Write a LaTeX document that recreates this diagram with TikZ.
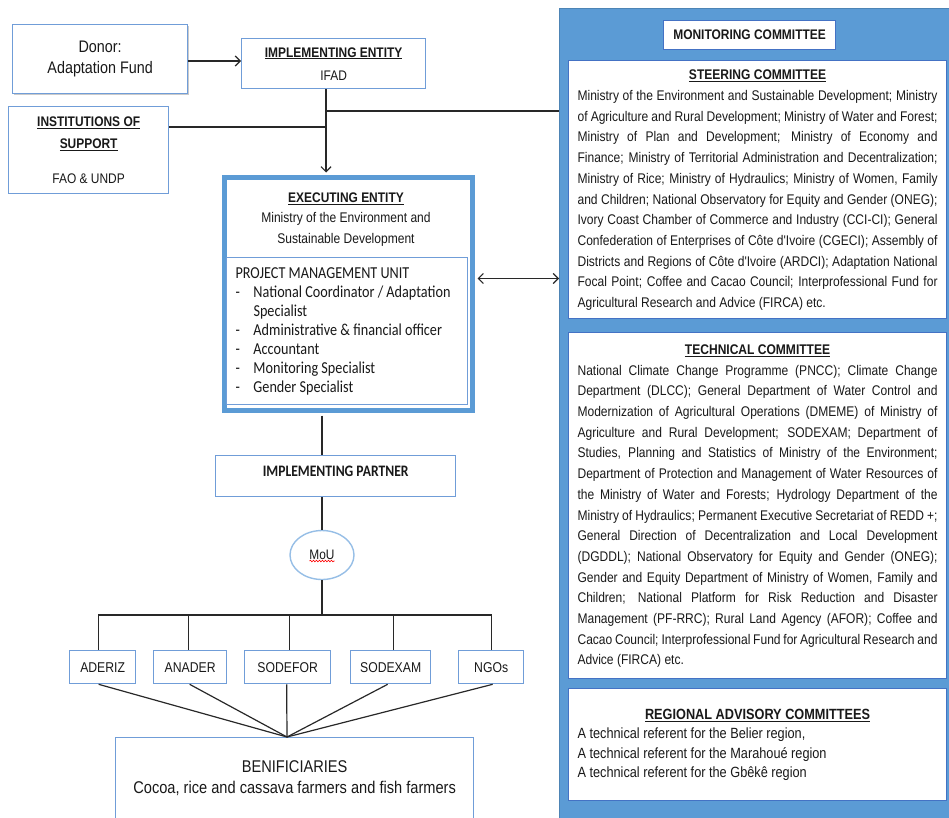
\documentclass[tikz,border=0pt]{standalone}
\usepackage{fontspec}
\setmainfont{Liberation Sans}
\newfontfamily\nar[FakeStretch=0.86]{Liberation Sans}
\newfontfamily\calf[FakeStretch=0.85]{Carlito}
\usetikzlibrary{arrows.meta,shapes.geometric,decorations.pathmorphing,shadows}
\definecolor{boxblue}{RGB}{112,157,216}
\definecolor{panelblue}{RGB}{91,155,213}
\definecolor{darkblue}{RGB}{68,114,196}
\definecolor{lightblue}{RGB}{150,190,230}
\definecolor{linegray}{RGB}{40,40,40}
\definecolor{txt}{RGB}{25,25,25}
\newlength\JW \setlength\JW{360pt}
\newcommand\JL[1]{\makebox[\JW][s]{\spaceskip=0pt\xspaceskip=0pt\strut #1}}
\newcommand\JT[1]{\makebox[\JW][c]{\strut\bfseries\underline{#1}}}
\newcommand\LL[1]{\strut #1}
\begin{document}
\begin{tikzpicture}[x=1pt,y=-1pt,
  execute at begin node={\spaceskip=0pt\xspaceskip=0pt},
  box/.style={draw=boxblue, line width=1.3pt, fill=white, inner sep=0pt, anchor=north west, text=txt, align=center},
  cbox/.style={draw=darkblue, line width=1.1pt, fill=white, anchor=north west, text=txt, inner xsep=9pt, inner ysep=0pt, align=left, text width=\JW},
  conn/.style={draw=linegray, line width=1.2pt},
  arr/.style={conn, -{Straight Barb[length=5pt,width=10pt,line width=1.2pt]}},
  darr/.style={conn, {Straight Barb[length=5pt,width=10pt,line width=1.2pt]}-{Straight Barb[length=5pt,width=10pt,line width=1.2pt]}},
  small/.style={font={\nar\fontsize{14.2}{18}\selectfont}},
  body/.style={font={\nar\fontsize{14}{20.7}\selectfont}}
]
\useasboundingbox (0,0) rectangle (949,817);

% right panel
\node[fill=panelblue, draw=panelblue!85!black, line width=0.8pt, minimum width=401pt, minimum height=822pt, anchor=north west, inner sep=0pt] (panel) at (559,8) {};

% left column boxes
\node[box, minimum width=175pt, minimum height=69pt, font={\nar\fontsize{16.7}{21}\selectfont},
      drop shadow={shadow xshift=1.5pt, shadow yshift=-1.8pt, opacity=0.35, fill=black!60}] (donor) at (12,24) {Donor:\\Adaptation Fund};
\node[box, minimum width=184pt, minimum height=50pt, font={\nar\fontsize{13.9}{23}\selectfont}] (ifad) at (241,38) {\textbf{\underline{IMPLEMENTING ENTITY}}\\IFAD};
\node[box, minimum width=160pt, minimum height=87pt, font={\nar\fontsize{13.9}{22}\selectfont}] (inst) at (8,106) {\textbf{\underline{INSTITUTIONS OF}}\\\textbf{\underline{SUPPORT}}\\[13pt]FAO \& UNDP};

\node[draw=panelblue, line width=5pt, fill=white, minimum width=248pt, minimum height=233pt, anchor=north west, inner sep=0pt] (exec) at (222,175) {};
\node[text=txt, align=center, inner sep=0pt, font={\nar\fontsize{14}{20.5}\selectfont}] (exectext) at (346,219.5)
  {{\bfseries\fontsize{13.9}{20.5}\selectfont\underline{EXECUTING ENTITY}}\\Ministry of the Environment and\\Sustainable Development};
\node[draw=boxblue, line width=1pt, fill=white, anchor=north west, inner xsep=9pt, inner ysep=0pt, text width=223pt, minimum height=147pt, align=left, text=txt, font={\calf\fontsize{16.7}{19}\selectfont}] (pmu) at (226,257)
  {PROJECT MANAGEMENT UNIT\\
   \makebox[18pt][l]{-}National Coordinator / Adaptation\\
   \makebox[18pt][l]{}Specialist\\
   \makebox[18pt][l]{-}Administrative \& financial officer\\
   \makebox[18pt][l]{-}Accountant\\
   \makebox[18pt][l]{-}Monitoring Specialist\\
   \makebox[18pt][l]{-}Gender Specialist};

\node[box, minimum width=240pt, minimum height=41pt, text height=0pt, text depth=0pt, font={\calf\bfseries\fontsize{16}{18}\selectfont}] (impl) at (215,455) {IMPLEMENTING PARTNER};
\node[ellipse, draw=lightblue, line width=1.4pt, fill=white, minimum width=64pt, minimum height=49pt, inner sep=0pt, text=txt, font={\nar\fontsize{13.8}{16}\selectfont}] (mou) at (322,555) {MoU};
\draw[red, line width=0.6pt, decorate, decoration={snake, segment length=3pt, amplitude=0.8pt}] ([xshift=-12.5pt,yshift=-6pt]mou.center) -- ([xshift=12.5pt,yshift=-6pt]mou.center);

\node[box, small, minimum width=66pt, minimum height=33pt] (aderiz) at (69,650) {ADERIZ};
\node[box, small, minimum width=73pt, minimum height=33pt] (anader) at (153,650) {ANADER};
\node[box, small, minimum width=86pt, minimum height=33pt] (sodefor) at (244,650) {SODEFOR};
\node[box, small, minimum width=80pt, minimum height=33pt] (sodexam) at (350,650) {SODEXAM};
\node[box, small, minimum width=65pt, minimum height=33pt] (ngos) at (458,650) {NGOs};

\node[box, minimum width=358pt, minimum height=81pt, font={\nar\fontsize{17}{21}\selectfont}] (bene) at (115,737) {BENIFICIARIES\\Cocoa, rice and cassava farmers and fish farmers};

% right panel boxes
\node[draw=darkblue, line width=1.1pt, fill=white, anchor=north west, minimum width=172pt, minimum height=29pt, inner sep=0pt, text=txt, font={\nar\bfseries\fontsize{13.9}{16}\selectfont}] (monit) at (663,20) {MONITORING COMMITTEE};
\node[cbox, body, minimum height=258pt] (steer) at (568,60) {%
\JT{STEERING COMMITTEE}\\
\JL{Ministry of the Environment and Sustainable Development; Ministry}\\
\JL{of Agriculture and Rural Development; Ministry of Water and Forest;}\\
\JL{Ministry of Plan and Development; Ministry of Economy and}\\
\JL{Finance; Ministry of Territorial Administration and Decentralization;}\\
\JL{Ministry of Rice; Ministry of Hydraulics; Ministry of Women, Family}\\
\JL{and Children; National Observatory for Equity and Gender (ONEG);}\\
\JL{Ivory Coast Chamber of Commerce and Industry (CCI-CI); General}\\
\JL{Confederation of Enterprises of Côte d'Ivoire (CGECI); Assembly of}\\
\JL{Districts and Regions of Côte d'Ivoire (ARDCI); Adaptation National}\\
\JL{Focal Point; Coffee and Cacao Council; Interprofessional Fund for}\\
\LL{Agricultural Research and Advice (FIRCA) etc.}};
\node[cbox, body, minimum height=346pt] (tech) at (568,332) {%
\JT{TECHNICAL COMMITTEE}\\
\JL{National Climate Change Programme (PNCC); Climate Change}\\
\JL{Department (DLCC); General Department of Water Control and}\\
\JL{Modernization of Agricultural Operations (DMEME) of Ministry of}\\
\JL{Agriculture and Rural Development; SODEXAM; Department of}\\
\JL{Studies, Planning and Statistics of Ministry of the Environment;}\\
\JL{Department of Protection and Management of Water Resources of}\\
\JL{the Ministry of Water and Forests; Hydrology Department of the}\\
\JL{Ministry of Hydraulics; Permanent Executive Secretariat of REDD +;}\\
\JL{General Direction of Decentralization and Local Development}\\
\JL{(DGDDL); National Observatory for Equity and Gender (ONEG);}\\
\JL{Gender and Equity Department of Ministry of Women, Family and}\\
\JL{Children; National Platform for Risk Reduction and Disaster}\\
\JL{Management (PF-RRC); Rural Land Agency (AFOR); Coffee and}\\
\JL{Cacao Council; Interprofessional Fund for Agricultural Research and}\\
\LL{Advice (FIRCA) etc.}};
\node[cbox, minimum height=112pt, font={\nar\fontsize{14.8}{19.5}\selectfont}] (regio) at (568,688) {%
\JT{REGIONAL ADVISORY COMMITTEES}\\
\LL{A technical referent for the Belier region,}\\
\LL{A technical referent for the Marahoué region}\\
\LL{A technical referent for the Gbêkê region}};

% connectors
\coordinate (j1) at (326,111);
\coordinate (j2) at (326,127);
\coordinate (col) at (322,455);
\coordinate (pa) at ([yshift=15.5pt]exec.east);
\coordinate (bar) at (322,615);
\coordinate (conv) at (287,737);

\draw[arr] (donor.east |- 0,61) -- (ifad.west |- 0,61);
\draw[arr, shorten >=2.5pt] (ifad.south -| j1) -- (exec.north -| j1);
\draw[conn] (j1) -- (j1 -| panel.west);
\draw[conn] (inst.east |- j2) -- (j2);
\draw[darr, shorten <=2.5pt] (pa) -- (pa -| panel.west);
\draw[conn, shorten <=2.5pt] (exec.south -| col) -- (impl.north -| col);
\draw[conn] (impl.south -| col) -- (mou.north);
\draw[conn] (mou.south) -- (bar);
\draw[conn] (bar) -| ([xshift=-4pt]aderiz.north);
\draw[conn] (bar) -| ([xshift=-1.5pt]anader.north);
\draw[conn] (bar) -| ([xshift=2pt]sodefor.north);
\draw[conn] (bar) -| ([xshift=3pt]sodexam.north);
\draw[conn] (bar) -| (ngos.north);
\draw[conn] ([xshift=-4pt]aderiz.south) -- (conv);
\draw[conn] ([xshift=-0.5pt]anader.south) -- (conv);
\draw[conn] ([xshift=-1pt]sodefor.south) -- (conv);
\draw[conn] ([xshift=-3pt]sodexam.south) -- (conv);
\draw[conn] ([xshift=1.5pt]ngos.south) -- (conv);
\end{tikzpicture}
\end{document}
